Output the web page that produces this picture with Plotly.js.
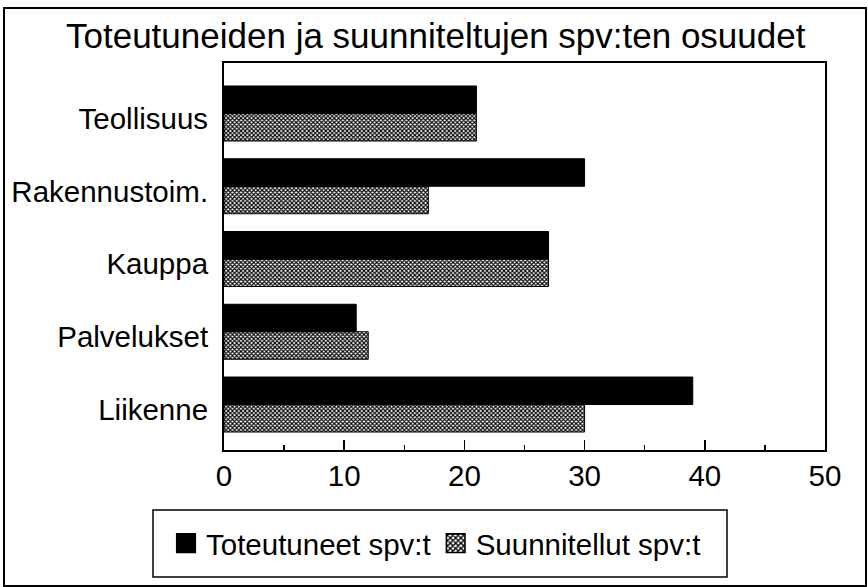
<!DOCTYPE html>
<html>
<head>
<meta charset="utf-8">
<script src="https://cdn.plot.ly/plotly-3.0.1.min.js"></script>
<style>
  html, body { margin: 0; padding: 0; background: #fff; }
  #chart { width: 868px; height: 587px; }
</style>
</head>
<body>
<div id="chart"></div>
<script>
// Categories, bottom to top
const categories = ["Liikenne", "Palvelukset", "Kauppa", "Rakennustoim.", "Teollisuus"];
const toteutuneet = [39, 11, 27, 30, 21];
const suunnitellut = [30, 12, 27, 17, 21];
const seriesNames = ["Toteutuneet spv:t", "Suunnitellut spv:t"];
const xTicks = [0, 10, 20, 30, 40, 50];

const FONT = "Arial, 'Liberation Sans', Helvetica, sans-serif";
const FS = 29.5;

const traces = [
  {
    type: "bar", orientation: "h",
    name: seriesNames[1],
    y: categories, x: suunnitellut,
    legendrank: 2,
    marker: {
      color: "#ffffff",
      line: { color: "#000", width: 1 },
      pattern: { shape: "x", size: 3, solidity: 0.6, fgcolor: "#000", bgcolor: "#fff" }
    },
    hoverinfo: "x+y"
  },
  {
    type: "bar", orientation: "h",
    name: seriesNames[0],
    y: categories, x: toteutuneet,
    legendrank: 1,
    marker: { color: "#000", line: { color: "#000", width: 1 } },
    hoverinfo: "x+y"
  }
];

const pl = 224, pr = 825, pt = 63, pb = 450;
const W = 868, H = 587;
const px = v => (v - pl) / (pr - pl);
const py = v => (pb - v) / (pb - pt);

const layout = {
  width: W, height: H,
  margin: { l: pl, r: W - pr, t: pt, b: H - pb, pad: 0 },
  paper_bgcolor: "#fff", plot_bgcolor: "#fff",
  font: { family: FONT, color: "#000" },
  barmode: "group",
  bargap: 0.244,
  bargroupgap: 0,
  showlegend: true,
  title: {
    text: "Toteutuneiden ja suunniteltujen spv:ten osuudet",
    font: { family: FONT, size: 35, color: "#000" },
    xref: "container", x: 0.502, xanchor: "center",
    yref: "container", y: 1 - 36 / H, yanchor: "middle"
  },
  xaxis: {
    range: [0, 50],
    tickvals: xTicks,
    ticktext: xTicks.map(String),
    ticks: "inside", ticklen: 10, tickwidth: 1.5, tickcolor: "#000",
    minor: { dtick: 5, tick0: 0, ticks: "inside", ticklen: 5, tickwidth: 1.5, tickcolor: "#000" },
    showgrid: false, zeroline: false,
    showline: true, mirror: true, linecolor: "#000", linewidth: 2,
    tickfont: { family: FONT, size: FS, color: "#000" },
    ticklabelstandoff: -1,
    fixedrange: true
  },
  yaxis: {
    type: "category",
    categoryorder: "array", categoryarray: categories,
    range: [-0.625, 4.694],
    ticks: "", showgrid: false, zeroline: false,
    showline: true, mirror: true, linecolor: "#000", linewidth: 2,
    tickfont: { family: FONT, size: FS, color: "#000" },
    ticklabelstandoff: 8,
    ticklabelshift: 5,
    fixedrange: true
  },
  legend: {
    orientation: "h",
    x: px(166), xanchor: "left",
    y: py(543.5), yanchor: "middle",
    font: { family: FONT, size: FS, color: "#000" },
    bgcolor: "rgba(0,0,0,0)",
    borderwidth: 0,
    traceorder: "normal"
  },
  shapes: [
    { type: "rect", xref: "paper", yref: "paper",
      x0: px(4), x1: px(866), y0: py(586), y1: py(8),
      line: { color: "#000", width: 2 }, layer: "below" },
    { type: "rect", xref: "paper", yref: "paper",
      x0: px(153), x1: px(727), y0: py(577), y1: py(510),
      line: { color: "#000", width: 1.5 }, layer: "below" }
  ]
};

Plotly.newPlot("chart", traces, layout, { displayModeBar: false, staticPlot: true }).then(gd => {
  // enlarge the legend swatches (keeping their own placement) to match the reference's larger squares
  gd.querySelectorAll(".legendpoints path").forEach(p => {
    const t = p.getAttribute("transform") || "";
    p.setAttribute("transform", (t + " scale(1.55)").trim());
  });
});
</script>
</body>
</html>
